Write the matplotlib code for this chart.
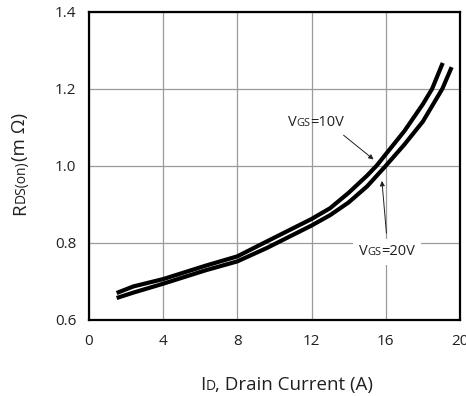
import matplotlib
matplotlib.use("Agg")
import matplotlib.pyplot as plt
from matplotlib.transforms import offset_copy

plt.rcParams['font.family'] = ['Open Sans', 'DejaVu Sans']

# data
id_10v = [1.5, 2.4, 4, 6.3, 8, 9.6, 12, 13, 14, 15, 15.5, 16, 17, 18, 18.5, 19.07]
rds_10v = [0.670, 0.687, 0.706, 0.741, 0.765, 0.804, 0.862, 0.890, 0.930, 0.975,
           1.000, 1.030, 1.090, 1.160, 1.200, 1.267]
id_20v = [1.5, 2.4, 4, 6.3, 8, 9.6, 12, 13, 14, 15, 16, 17, 18, 19.05, 19.55]
rds_20v = [0.657, 0.671, 0.694, 0.729, 0.752, 0.787, 0.845, 0.872, 0.905, 0.947,
           1.000, 1.055, 1.115, 1.200, 1.256]
x_ticks = [0, 4, 8, 12, 16, 20]
y_ticks = [0.6, 0.8, 1.0, 1.2, 1.4]

txt_col = '#231f20'

fig = plt.figure(figsize=(4.66, 3.96), dpi=100)
ax = fig.add_axes([0.1906, 0.192, 0.7965, 0.7785])

ax.plot(id_10v, rds_10v, color='black', lw=3.0, solid_capstyle='butt')
ax.plot(id_20v, rds_20v, color='black', lw=3.0, solid_capstyle='butt')

ax.set_xlim(0, 20)
ax.set_ylim(0.6, 1.4)
ax.set_xticks(x_ticks)
ax.set_yticks(y_ticks)
ax.set_xticklabels([str(v) for v in x_ticks])
ax.set_yticklabels(['%.1f' % v for v in y_ticks])
ax.grid(True, color='#9a9a9a', lw=0.9)
ax.set_axisbelow(True)
for sp in ax.spines.values():
    sp.set_linewidth(1.6)
    sp.set_color('black')
ax.tick_params(axis='both', length=0, labelsize=11, labelcolor=txt_col)
ax.tick_params(axis='x', pad=10)
ax.tick_params(axis='y', pad=9)

fig.canvas.draw()
renderer = fig.canvas.get_renderer()


def mixed_text(base, x, y, parts, rotation=0, color=txt_col, zorder=5, **kw):
    # lay out pieces of text with different sizes on one baseline
    shift = 0.0
    for s, size in parts:
        if rotation:
            tr = offset_copy(base, fig=fig, x=0, y=shift, units='dots')
        else:
            tr = offset_copy(base, fig=fig, x=shift, y=0, units='dots')
        t = fig.text(x, y, s, transform=tr, fontsize=size, rotation=rotation,
                     rotation_mode='anchor', ha='left', va='baseline',
                     color=color, zorder=zorder, **kw)
        bb = t.get_window_extent(renderer)
        shift += bb.height if rotation else bb.width


mixed_text(fig.transFigure, 0.429, 0.015,
           [('I', 13.5), ('D', 10), (', Drain Current (A)', 13.5)])
mixed_text(fig.transFigure, 0.0536, 0.457,
           [('R', 13.5), ('DS(on)', 10), ('(m \u03a9)', 13.5)], rotation=90)

# curve labels
ax.annotate('', xy=(15.46, 1.012), xytext=(13.61, 1.084),
            arrowprops=dict(arrowstyle='-|>', lw=0.7, color=txt_col, mutation_scale=7))
ax.annotate('', xy=(15.78, 0.968), xytext=(16.05, 0.818),
            arrowprops=dict(arrowstyle='-|>', lw=0.7, color=txt_col, mutation_scale=7))
lab10 = [('V', 10.5), ('GS', 8), ('=10V', 10.5)]
lab20 = [('V', 10.5), ('GS', 8), ('=20V', 10.5)]
mixed_text(ax.transData, 10.72, 1.104, lab10)
# white patch behind the lower label first, then the text on top
mixed_text(ax.transData, 14.54, 0.768, lab20, color='white', zorder=4,
           bbox=dict(fc='white', ec='none', pad=4))
mixed_text(ax.transData, 14.54, 0.768, lab20)

fig.savefig('out.png', dpi=100)
